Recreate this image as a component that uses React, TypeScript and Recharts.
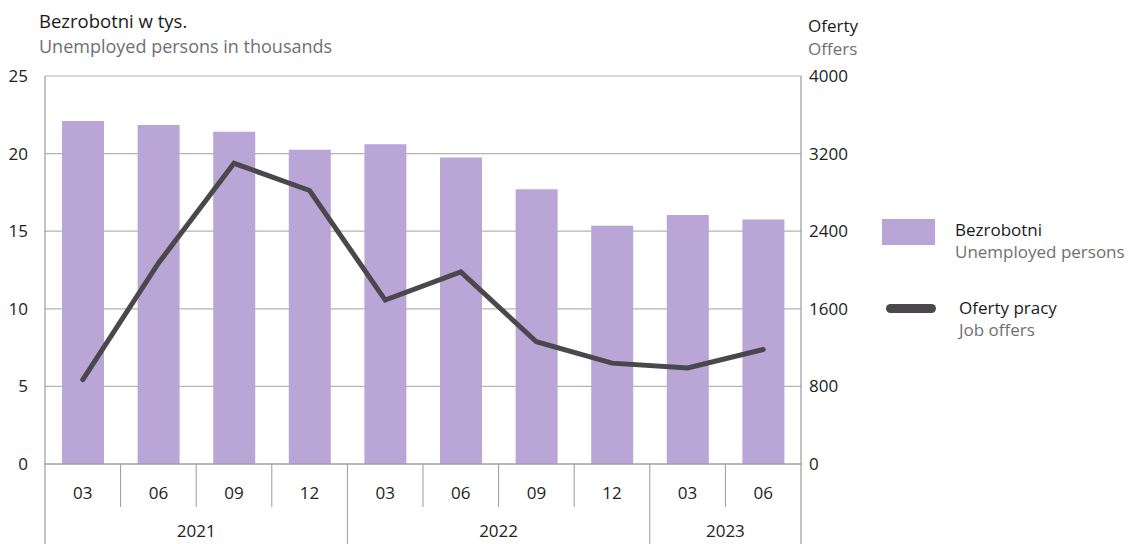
import React from 'react';
import { ComposedChart, Bar, Line, XAxis, YAxis, CartesianGrid } from 'recharts';

const months = ['03', '06', '09', '12', '03', '06', '09', '12', '03', '06'];
const years = ['2021', '2021', '2021', '2021', '2022', '2022', '2022', '2022', '2023', '2023'];
const unemployed = [22.1, 21.85, 21.4, 20.25, 20.6, 19.75, 17.7, 15.35, 16.05, 15.75];
const offers = [870, 2070, 3100, 2820, 1690, 1980, 1260, 1040, 990, 1180];
const leftTicks = [0, 5, 10, 15, 20, 25];
const rightTicks = [0, 800, 1600, 2400, 3200, 4000];

const data = months.map((m, i) => ({ key: `${years[i]}-${m}`, month: m, year: years[i], u: unemployed[i], o: offers[i] }));

const FONT = '"Open Sans", sans-serif';
const W = 1131;
const H = 544;
const M_LEFT_AXIS = 45;
const RIGHT_AXIS_W = 60;
const M_RIGHT = 270;
const M_TOP = 76;
const X_AXIS_H = 80;
const PLOT_W = W - M_LEFT_AXIS - RIGHT_AXIS_W - M_RIGHT;
const CW = PLOT_W / data.length;
const GRID = '#b3b3b3';
const SEP = '#9a9a9a';

const MonthTick = (props: any) => {
  const { x, y, index } = props;
  const d = data[index];
  const left = x - CW / 2;
  const els: any[] = [];
  els.push(
    <text key="m" x={x} y={y + 30} textAnchor="middle" dominantBaseline="middle" fontFamily={FONT} fontSize={17} fill="#222">
      {d.month}
    </text>
  );
  const newYear = index === 0 || data[index - 1].year !== d.year;
  if (index > 0) {
    els.push(<line key="s" x1={left} x2={left} y1={y} y2={newYear ? H : y + 43} stroke={SEP} strokeWidth={1} />);
  } else {
    els.push(<line key="s" x1={left} x2={left} y1={y} y2={H} stroke={SEP} strokeWidth={1.2} />);
  }
  if (index === data.length - 1) {
    els.push(<line key="r" x1={x + CW / 2} x2={x + CW / 2} y1={y} y2={H} stroke={SEP} strokeWidth={1.2} />);
  }
  if (newYear) {
    const n = data.filter((e) => e.year === d.year).length;
    els.push(
      <text key="y" x={left + (n * CW) / 2} y={y + 68} textAnchor="middle" dominantBaseline="middle" fontFamily={FONT} fontSize={17} fill="#222">
        {d.year}
      </text>
    );
  }
  return <g>{els}</g>;
};

const txt = (s: string, x: number, y: number, color: string, size = 17) => (
  <div style={{ position: 'absolute', left: x, top: y, fontFamily: FONT, fontSize: size, color, lineHeight: '22px', whiteSpace: 'nowrap' }}>{s}</div>
);

export default function App() {
  return (
    <div style={{ position: 'absolute', left: 0, top: 0, width: W, height: H, background: '#fff', overflow: 'hidden' }}>
      <ComposedChart width={W} height={H} data={data} margin={{ top: M_TOP, right: M_RIGHT, bottom: 0, left: 0 }}>
        <CartesianGrid horizontal={true} vertical={false} stroke={GRID} strokeWidth={1.2} yAxisId="left" />
        <XAxis
          dataKey="key"
          height={X_AXIS_H}
          tickLine={false}
          tickSize={0}
          tickMargin={0}
          axisLine={{ stroke: SEP, strokeWidth: 1.2 }}
          tick={<MonthTick />}
          interval={0}
        />
        <YAxis
          yAxisId="left"
          orientation="left"
          width={M_LEFT_AXIS}
          domain={[0, 25]}
          ticks={leftTicks}
          tickLine={false}
          tickSize={0}
          tickMargin={17}
          axisLine={{ stroke: SEP, strokeWidth: 1.2 }}
          tick={{ fontFamily: FONT, fontSize: 17, fill: '#222' }}
        />
        <YAxis
          yAxisId="right"
          orientation="right"
          width={RIGHT_AXIS_W}
          domain={[0, 4000]}
          ticks={rightTicks}
          tickLine={false}
          tickSize={0}
          tickMargin={8}
          axisLine={{ stroke: SEP, strokeWidth: 1.2 }}
          tick={{ fontFamily: FONT, fontSize: 17, fill: '#222', textAnchor: 'start' }}
        />
        <Bar yAxisId="left" dataKey="u" fill="#b9a5d6" barSize={42} isAnimationActive={false} />
        <Line yAxisId="right" dataKey="o" stroke="#4a484c" strokeWidth={5} dot={false} strokeLinecap="round" strokeLinejoin="miter" isAnimationActive={false} />
      </ComposedChart>
      {txt('Bezrobotni w tys.', 39, 10, '#1a1a1a', 18.5)}
      {txt('Unemployed persons in thousands', 39, 35, '#707070', 18)}
      {txt('Oferty', 808, 15, '#1a1a1a')}
      {txt('Offers', 808, 38, '#707070')}
      <div style={{ position: 'absolute', left: 882, top: 219, width: 53, height: 26, background: '#b9a5d6' }} />
      {txt('Bezrobotni', 955, 219, '#1a1a1a')}
      {txt('Unemployed persons', 955, 241, '#707070')}
      <div style={{ position: 'absolute', left: 886, top: 304, width: 50, height: 9, borderRadius: 5, background: '#4a484c' }} />
      {txt('Oferty pracy', 959, 297, '#1a1a1a')}
      {txt('Job offers', 959, 319, '#707070')}
    </div>
  );
}
